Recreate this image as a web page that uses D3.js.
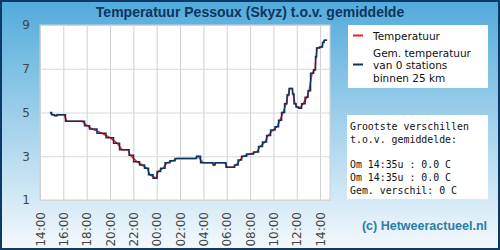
<!DOCTYPE html>
<html>
<head>
<meta charset="utf-8">
<script src="https://cdn.jsdelivr.net/npm/d3@7"></script>
<style>
  body { margin: 0; }
  svg { display: block; }
</style>
</head>
<body>
<div id="chart"></div>
<script>
// meetmomenten (dag 1 = 14:00 begin, dag 2 na middernacht)
var times = ["14:51","15:07","15:22","15:33","16:03","16:19","17:36","18:02","18:27","19:19",
             "20:00","20:36","21:02","21:33","21:43","22:19","22:45","23:10","23:26","23:57",
             "00:07","00:33","00:53","01:24","01:45","03:17","03:33","03:58","04:45","04:55",
             "05:05","05:51","06:02","06:33","06:48","07:09","07:24","08:00","08:36","08:51",
             "09:17","09:33","09:58","10:19","10:34","10:50","11:05","11:15","11:26","11:36",
             "11:41","11:51","12:02","12:17","12:33","12:53","13:03","13:19","13:34","13:39",
             "13:45","14:10","14:15","14:26","14:36"];
var temperatuur = [5.0,4.9,4.85,4.9,4.9,4.6,4.6,4.4,4.25,4.05,
                   3.85,3.6,3.3,3.3,3.05,2.75,2.6,2.45,2.15,2.0,
                   2.3,2.45,2.7,2.8,2.9,2.9,3.0,2.7,2.7,2.6,
                   2.7,2.7,2.5,2.5,2.6,2.83,3.0,3.1,3.2,3.45,
                   3.65,3.95,4.2,4.35,4.65,5.0,5.4,5.8,6.1,6.1,
                   5.85,5.4,5.25,5.2,5.4,5.7,6.0,6.8,6.95,7.55,
                   7.95,8.0,8.2,8.3,8.3];
var gemiddelde = [5.0,4.9,4.85,4.9,4.9,4.6,4.6,4.4,4.25,4.05,
                  3.85,3.6,3.3,3.3,3.05,2.75,2.6,2.45,2.15,2.0,
                  2.3,2.45,2.7,2.8,2.9,2.9,3.0,2.7,2.7,2.6,
                  2.7,2.7,2.5,2.5,2.6,2.83,3.0,3.1,3.2,3.45,
                  3.65,3.95,4.2,4.35,4.65,5.0,5.4,5.8,6.1,6.1,
                  5.85,5.4,5.25,5.2,5.4,5.7,6.0,6.8,6.95,7.55,
                  7.95,8.0,8.2,8.3,8.3];
var yTicks = [1, 3, 5, 7, 9];
var xTickLabels = ["14:00","16:00","18:00","20:00","22:00","00:00","02:00","04:00","06:00","08:00","10:00","12:00","14:00"];
var legendLabels = ["Temperatuur", "Gem. temperatuur", "van 0 stations", "binnen 25 km"];
var infoLines = ["Grootste verschillen", "t.o.v. gemiddelde:", "", "Om 14:35u : 0.0 C", "Om 14:35u : 0.0 C", "Gem. verschil: 0 C"];

var W = 500, H = 250,
    plot = { left: 40, top: 25, right: 330, bottom: 200 };

var toDate = function (s, i) {
    var p = s.split(":").map(Number);
    var day = (p[0] >= 14 && i < 40) ? 1 : 2;
    return new Date(2020, 0, day, p[0], p[1]);
};
var data = times.map(function (t, i) {
    return { t: toDate(t, i), temp: temperatuur[i], gem: gemiddelde[i] };
});

var svg = d3.select("#chart").append("svg")
    .attr("width", W).attr("height", H);

var grad = svg.append("defs").append("linearGradient")
    .attr("id", "bg").attr("x1", 0).attr("y1", 0).attr("x2", 0).attr("y2", 1);
grad.append("stop").attr("offset", "0%").attr("stop-color", "#52abdb");
grad.append("stop").attr("offset", "100%").attr("stop-color", "#f4f9fc");

svg.append("rect")
    .attr("x", 1).attr("y", 1).attr("width", W - 2).attr("height", H - 2)
    .attr("fill", "url(#bg)")
    .attr("stroke", "#0b3a68").attr("stroke-width", 2);

svg.append("text")
    .attr("x", 250).attr("y", 17)
    .attr("text-anchor", "middle")
    .attr("font-family", "Liberation Sans, Arial, sans-serif")
    .attr("font-weight", "bold").attr("font-size", 14)
    .attr("fill", "#0d3560")
    .text("Temperatuur Pessoux (Skyz) t.o.v. gemiddelde");

var x = d3.scaleTime()
    .domain([new Date(2020, 0, 1, 14, 0), new Date(2020, 0, 2, 14, 51)])
    .range([plot.left, plot.right]);
var y = d3.scaleLinear()
    .domain([1, 9])
    .range([plot.bottom, plot.top]);

svg.append("rect")
    .attr("x", plot.left).attr("y", plot.top)
    .attr("width", plot.right - plot.left).attr("height", plot.bottom - plot.top)
    .attr("fill", "#fff");

var tickDates = d3.range(13).map(function (i) { return new Date(2020, 0, 1, 14 + i * 2, 0); });

// rasterlijnen
svg.append("g")
    .attr("transform", "translate(0," + plot.bottom + ")")
    .call(d3.axisBottom(x).tickValues(tickDates).tickSize(-(plot.bottom - plot.top)).tickFormat(""))
    .call(function (g) { g.select(".domain").remove(); })
    .selectAll("line").attr("stroke", "#d0d0d0");

svg.append("g")
    .attr("transform", "translate(" + plot.left + ",0)")
    .call(d3.axisLeft(y).tickValues(yTicks).tickSize(-(plot.right - plot.left)).tickPadding(10))
    .call(function (g) { g.select(".domain").remove(); })
    .call(function (g) {
        g.selectAll("line").attr("stroke", "#d8d8d8");
        g.selectAll("text")
            .attr("font-family", "DejaVu Sans, sans-serif")
            .attr("font-size", 12).attr("fill", "#444");
    });

svg.append("rect")
    .attr("x", plot.left).attr("y", plot.top)
    .attr("width", plot.right - plot.left).attr("height", plot.bottom - plot.top)
    .attr("fill", "none").attr("stroke", "#cfcfcf");

// x-as labels (verticaal)
svg.append("g")
    .attr("transform", "translate(0," + plot.bottom + ")")
    .call(d3.axisBottom(x).tickValues(tickDates).tickSize(0).tickFormat(function (d, i) { return xTickLabels[i]; }))
    .call(function (g) { g.select(".domain").remove(); })
    .selectAll("text")
    .attr("font-family", "DejaVu Sans, sans-serif")
    .attr("font-size", 12).attr("fill", "#444")
    .attr("text-anchor", "end")
    .attr("transform", "rotate(-90)")
    .attr("x", -12).attr("y", 0).attr("dy", "0.35em");

var lijnTemp = d3.line()
    .x(function (d) { return x(d.t); })
    .y(function (d) { return y(d.temp); });
var lijnGem = d3.line()
    .curve(d3.curveStep)
    .x(function (d) { return x(d.t); })
    .y(function (d) { return y(d.gem); });

svg.append("path").datum(data)
    .attr("d", lijnTemp)
    .attr("fill", "none").attr("stroke", "#ff1a1a").attr("stroke-width", 1.5);
svg.append("path").datum(data)
    .attr("d", lijnGem)
    .attr("fill", "none").attr("stroke", "#0c3460").attr("stroke-width", 1.5);

// legenda
var leg = svg.append("g");
leg.append("rect").attr("x", 348).attr("y", 25).attr("width", 140).attr("height", 63).attr("fill", "#fff");
leg.append("line").attr("x1", 353).attr("x2", 363).attr("y1", 35.5).attr("y2", 35.5)
    .attr("stroke", "#ff1a1a").attr("stroke-width", 2);
leg.append("line").attr("x1", 353).attr("x2", 363).attr("y1", 64.5).attr("y2", 64.5)
    .attr("stroke", "#0c3460").attr("stroke-width", 2);
var legY = [39.5, 56.5, 69, 81.5];
leg.selectAll("text").data(legendLabels).enter().append("text")
    .attr("x", 373).attr("y", function (d, i) { return legY[i]; })
    .attr("font-family", "DejaVu Sans, sans-serif")
    .attr("font-size", 10.5).attr("fill", "#111")
    .text(function (d) { return d; });

// info blok
var info = svg.append("g");
info.append("rect").attr("x", 347).attr("y", 115).attr("width", 141).attr("height", 84).attr("fill", "#fff");
info.selectAll("text").data(infoLines).enter().append("text")
    .attr("x", 350).attr("y", function (d, i) { return 130 + i * 12.8; })
    .attr("font-family", "DejaVu Sans Mono, monospace")
    .attr("font-size", 9.9).attr("fill", "#111")
    .attr("xml:space", "preserve")
    .text(function (d) { return d; });

svg.append("text")
    .attr("x", 487).attr("y", 230)
    .attr("text-anchor", "end")
    .attr("font-family", "Liberation Sans, Arial, sans-serif")
    .attr("font-weight", "bold").attr("font-size", 12.5)
    .attr("fill", "#2a7ea8")
    .text("(c) Hetweeractueel.nl");
</script>
</body>
</html>
